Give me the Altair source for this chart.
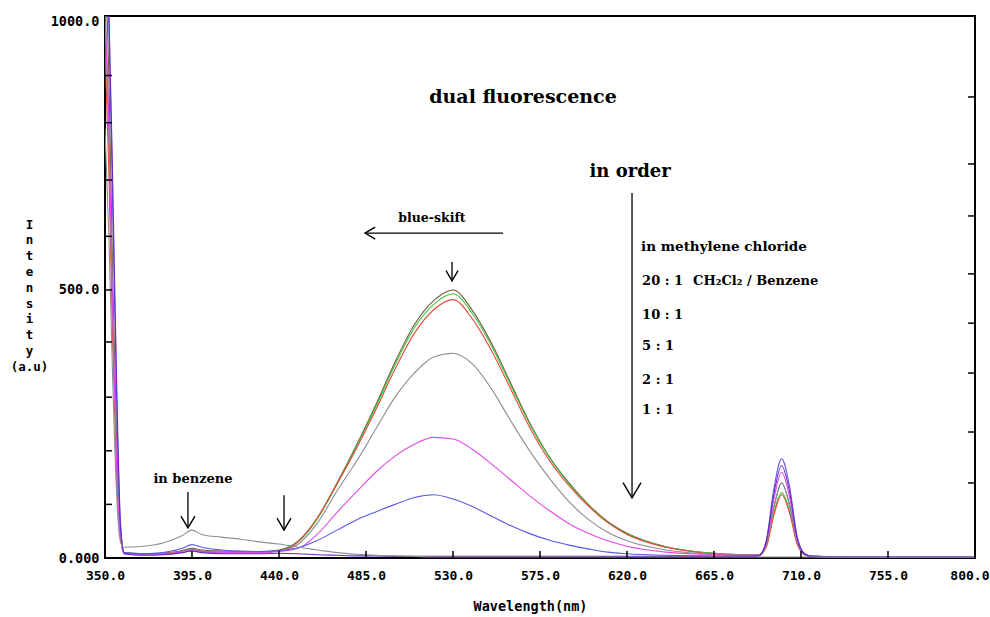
import altair as alt
import pandas as pd

# ---------------- data ----------------
WAVELENGTH = [350, 352, 354, 356, 358, 360, 370, 380, 390, 395, 400,
              410, 420, 430, 440, 450, 460, 470, 480, 490, 500,
              510, 520, 530, 540, 550, 560, 570, 580, 590, 600,
              610, 620, 640, 660, 680, 688, 692, 696, 700, 704,
              708, 712, 716, 740, 770, 800]

I_CH2CL2 = [1150, 900, 520, 220, 50, 10, 8, 9, 14, 18, 15,
            13, 12, 12, 15, 32, 75, 140, 210, 285, 365,
            435, 480, 500, 462, 400, 325, 250, 188, 140, 100,
            68, 46, 21, 10, 6, 6, 25, 95, 140, 100,
            30, 6, 3, 2, 2, 2]
I_20_1 = [1000, 780, 430, 170, 40, 8, 6, 7, 11, 14, 12,
          10, 10, 10, 13, 30, 74, 138, 207, 281, 360,
          429, 473, 493, 456, 395, 321, 247, 186, 138, 99,
          67, 45, 21, 10, 6, 5, 22, 85, 122, 90,
          28, 6, 3, 2, 2, 2]
I_10_1 = [950, 720, 400, 160, 38, 9, 7, 8, 12, 15, 13,
          11, 11, 11, 13, 31, 76, 138, 204, 276, 352,
          419, 463, 482, 446, 386, 314, 241, 181, 135, 97,
          66, 44, 20, 9, 5, 5, 20, 80, 118, 85,
          26, 6, 3, 2, 2, 2]
I_5_1 = [1050, 820, 460, 180, 42, 9, 7, 8, 12, 16, 13,
         11, 11, 11, 13, 26, 66, 125, 180, 240, 300,
         345, 375, 382, 362, 315, 255, 198, 148, 105, 72,
         48, 32, 15, 8, 5, 5, 24, 95, 140, 100,
         30, 6, 3, 2, 2, 2]
I_2_1 = [1000, 800, 450, 175, 40, 8, 6, 7, 11, 14, 12,
         10, 10, 10, 12, 18, 45, 85, 123, 160, 190,
         212, 225, 222, 203, 175, 145, 115, 88, 64, 46,
         32, 22, 11, 7, 5, 5, 28, 110, 160, 115,
         35, 7, 3, 2, 2, 2]
I_1_1 = [1150, 1000, 650, 300, 60, 10, 8, 10, 18, 25, 20,
         15, 13, 12, 14, 19, 33, 52, 71, 86, 100,
         113, 118, 110, 96, 78, 60, 45, 33, 24, 17,
         11, 8, 5, 4, 3, 4, 32, 130, 185, 135,
         40, 8, 3, 2, 2, 2]
I_BLANK = [1150, 1020, 700, 330, 65, 8, 5, 6, 10, 13, 10,
           8, 8, 8, 9, 8, 6, 5, 4, 4, 3,
           3, 3, 3, 3, 3, 3, 3, 3, 3, 3,
           3, 3, 3, 3, 3, 4, 30, 120, 172, 125,
           38, 7, 3, 2, 2, 2]
I_BENZENE = [800, 600, 330, 120, 30, 20, 22, 28, 42, 52, 44,
             39, 35, 30, 26, 20, 15, 10, 7, 5, 4,
             3, 2, 2, 2, 2, 2, 2, 2, 2, 2,
             2, 2, 2, 2, 2, 2, 2, 2, 2, 2,
             2, 2, 2, 2, 2, 2]

SERIES_NAMES = ["CH2Cl2", "20:1", "10:1", "5:1", "2:1", "1:1", "blank", "benzene"]
SERIES_VALUES = [I_CH2CL2, I_20_1, I_10_1, I_5_1, I_2_1, I_1_1, I_BLANK, I_BENZENE]
SERIES_COLORS = ["#6e5a3c", "#3cc83c", "#e8483c", "#8c8c96", "#e646e6", "#5a5ae6", "#6a28c8", "#8f8f8f"]

X_TICKS = [350, 395, 440, 485, 530, 575, 620, 665, 710, 755, 800]
Y_LABELS = [0, 500, 1000]
LEFT_TICKS = [100, 200, 300, 403, 500, 600, 705, 812, 900]
RIGHT_TICKS = [140, 235, 345, 438, 530, 638, 735, 860]

# annotations (data coordinates)
CENTER_TEXT = ["dual fluorescence", "in order", "blue-skift", "in benzene"]
CENTER_X = [566.2, 621.6, 519.1, 395.5]
CENTER_Y = [860, 720, 634, 147]
CENTER_SIZE = [19, 18, 12.5, 13]

LEFT_TEXT = ["in methylene chloride", "20 : 1", "CH\u2082Cl\u2082 / Benzene", "10 : 1", "5 : 1", "2 : 1", "1 : 1"]
LEFT_X = [627.3, 627.8, 654.2, 627.8, 627.8, 627.8, 627.8]
LEFT_Y = [580, 517, 517, 453, 396, 332, 276]
LEFT_SIZE = [13.5, 13, 13, 13, 13, 13, 13]

SHAFT_X = [622.6, 555.9, 392.9, 442.6, 529.5]
SHAFT_X2 = [622.6, 485.5, 392.9, 442.6, 529.5]
SHAFT_Y = [681, 606, 123, 117, 552]
SHAFT_Y2 = [114, 606, 58, 54, 519]

DOWN_HEAD_X = [622.6, 392.9, 442.6, 529.5]
DOWN_HEAD_Y = [112, 56, 52, 517]
DOWN_HEAD_SIZE = [324, 196, 196, 144]
LEFT_HEAD_X = [484.5]
LEFT_HEAD_Y = [606]

# ---------------- tables ----------------
rows = []
for name, vals in zip(SERIES_NAMES, SERIES_VALUES):
    for w, v in zip(WAVELENGTH, vals):
        rows.append({"series": name, "wl": w, "I": v})
df = pd.DataFrame(rows)

x_scale = alt.Scale(domain=[350, 800], nice=False, zero=False)
y_scale = alt.Scale(domain=[0, 1011], nice=False, zero=False)

MONO = "DejaVu Sans Mono"
SERIF = "DejaVu Serif"

x_axis = alt.Axis(values=X_TICKS, format=".1f", title="Wavelength(nm)",
                  labelFont=MONO, labelFontWeight="bold", labelFontSize=13, labelColor="black",
                  labelPadding=11, labelOverlap=False, labelBound=False, labelFlush=False,
                  labelAlign=alt.ExprRef("datum.value == 800 ? 'right' : 'center'"),
                  labelOffset=alt.ExprRef("datum.value == 800 ? 14 : 0"),
                  titleFont=MONO, titleFontWeight="bold", titleFontSize=13.5, titleColor="black",
                  titleX=425, titleY=48, titleBaseline="middle",
                  domain=False, ticks=False, grid=False)
y_axis = alt.Axis(values=Y_LABELS,
                  labelExpr="datum.value == 0 ? '0.000' : format(datum.value, '.1f')",
                  title=["I", "n", "t", "e", "n", "s", "i", "t", "y", "(a.u)"],
                  labelFont=MONO, labelFontWeight="bold", labelFontSize=13.5, labelColor="black",
                  labelPadding=6, labelOverlap=False, labelFlush=False,
                  titleFont=MONO, titleFontWeight="bold", titleFontSize=12.5, titleColor="black",
                  titleAngle=0, titleX=-76, titleY=202, titleAlign="center",
                  titleBaseline="top", titleLineHeight=15.8,
                  domain=False, ticks=False, grid=False)


def X(field):
    return alt.X(field, type="quantitative", scale=x_scale, axis=x_axis)


def Y(field):
    return alt.Y(field, type="quantitative", scale=y_scale, axis=y_axis)


lines = alt.Chart(df).mark_line(strokeWidth=1.1, clip=True, interpolate="monotone").encode(
    x=X("wl"), y=Y("I"),
    color=alt.Color("series:N", scale=alt.Scale(domain=SERIES_NAMES, range=SERIES_COLORS), legend=None),
)

# inner ticks
xt = pd.DataFrame({"wl": X_TICKS, "y0": [0] * len(X_TICKS), "y1": [13] * len(X_TICKS)})
x_ticks = alt.Chart(xt).mark_rule(color="black", strokeWidth=1.5).encode(
    x=X("wl"), y=Y("y0"), y2="y1:Q")
lt = pd.DataFrame({"v": LEFT_TICKS, "x0": [350] * len(LEFT_TICKS), "x1": [353.6] * len(LEFT_TICKS)})
l_ticks = alt.Chart(lt).mark_rule(color="black", strokeWidth=1.5).encode(
    y=Y("v"), x=X("x0"), x2="x1:Q")
rt = pd.DataFrame({"v": RIGHT_TICKS, "x0": [796.4] * len(RIGHT_TICKS), "x1": [800] * len(RIGHT_TICKS)})
r_ticks = alt.Chart(rt).mark_rule(color="black", strokeWidth=1.5).encode(
    y=Y("v"), x=X("x0"), x2="x1:Q")

# annotations
ct = pd.DataFrame({"t": CENTER_TEXT, "x": CENTER_X, "y": CENTER_Y, "s": CENTER_SIZE})
center_text = alt.Chart(ct).mark_text(font=SERIF, fontWeight="bold", color="black",
                                      align="center", baseline="middle").encode(
    x=X("x"), y=Y("y"), text="t:N", size=alt.Size("s:Q", scale=None, legend=None))
ltx = pd.DataFrame({"t": LEFT_TEXT, "x": LEFT_X, "y": LEFT_Y, "s": LEFT_SIZE})
left_text = alt.Chart(ltx).mark_text(font=SERIF, fontWeight="bold", color="black",
                                     align="left", baseline="middle").encode(
    x=X("x"), y=Y("y"), text="t:N", size=alt.Size("s:Q", scale=None, legend=None))

sh = pd.DataFrame({"x": SHAFT_X, "x2": SHAFT_X2, "y": SHAFT_Y, "y2": SHAFT_Y2})
shafts = alt.Chart(sh).mark_rule(color="black", strokeWidth=1.3).encode(
    x=X("x"), x2="x2:Q", y=Y("y"), y2="y2:Q")

dh = pd.DataFrame({"x": DOWN_HEAD_X, "y": DOWN_HEAD_Y, "s": DOWN_HEAD_SIZE})
down_heads = alt.Chart(dh).mark_point(shape="M -1 -1.7 L 0 0 L 1 -1.7", filled=False,
                                      color="black", strokeWidth=1.4, opacity=1).encode(
    x=X("x"), y=Y("y"), size=alt.Size("s:Q", scale=None, legend=None))
lh = pd.DataFrame({"x": LEFT_HEAD_X, "y": LEFT_HEAD_Y})
left_heads = alt.Chart(lh).mark_point(shape="M 1.7 -1 L 0 0 L 1.7 1", filled=False,
                                      color="black", strokeWidth=1.4, opacity=1, size=144).encode(
    x=X("x"), y=Y("y"))

chart = alt.layer(lines, x_ticks, l_ticks, r_ticks, shafts, down_heads, left_heads,
                  center_text, left_text).properties(
    width=870, height=542,
    padding={"left": 105, "top": 16, "right": 15, "bottom": 59},
    autosize=alt.AutoSizeParams(type="none"),
    background="white",
).configure_view(stroke="black", strokeWidth=2)

chart.save("out.html", embed_options={"renderer": "svg", "actions": False})
